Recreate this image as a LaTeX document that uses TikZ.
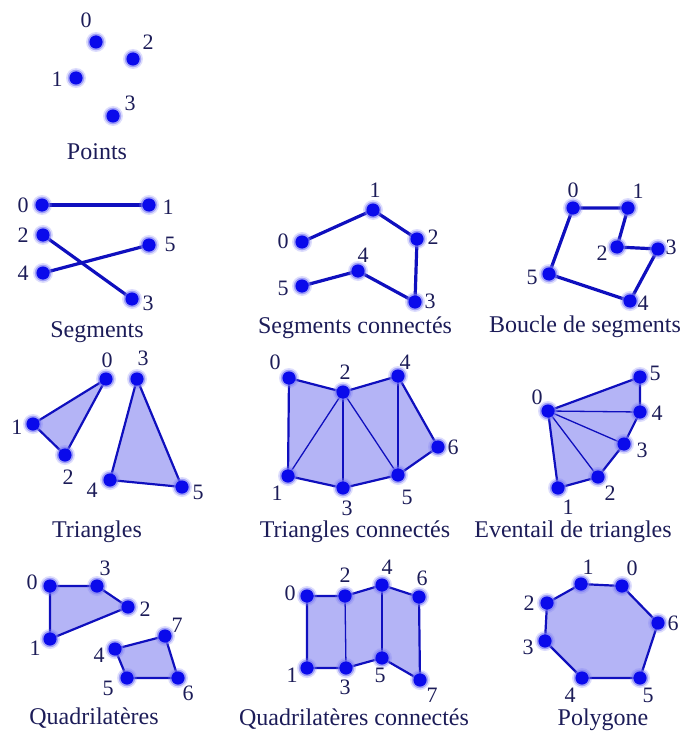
\documentclass[tikz,border=0pt]{standalone}
\usepackage{fontspec}
\setmainfont{Liberation Serif}
\definecolor{dotblue}{RGB}{10,10,235}
\definecolor{dotglow}{RGB}{120,120,245}
\definecolor{lineblue}{RGB}{15,15,190}
\definecolor{facefill}{RGB}{180,180,246}
\definecolor{txt}{RGB}{28,28,88}
\newcommand\numfnt{\fontsize{22}{24}\selectfont}
\newcommand\ttlfnt{\fontsize{24}{26}\selectfont}
\tikzset{
  seg/.style={draw=lineblue, line width=3.2pt, line join=round, line cap=round},
  face/.style={fill=facefill, draw=lineblue, line width=2.2pt, line join=round},
  innerline/.style={draw=lineblue, line width=1.3pt},
  num/.style={text=txt, font=\numfnt, inner sep=0pt},
  ttl/.style={text=txt, font=\ttlfnt, inner sep=0pt},
}
\newcommand\vertexdots[1]{\foreach \p in {#1}{%
  \fill[dotglow, opacity=0.25] (\p) circle (10pt);
  \fill[dotglow, opacity=0.6] (\p) circle (8.3pt);
  \fill[dotblue] (\p) circle (6.6pt);}}
\begin{document}
\begin{tikzpicture}[x=1pt,y=1pt]
\useasboundingbox (0,0) rectangle (681,-733);
% ---------- Points
\coordinate (a0) at (96,-42);
\coordinate (a1) at (76,-78);
\coordinate (a2) at (133,-59);
\coordinate (a3) at (113,-116);
\vertexdots{a0,a1,a2,a3}
\node[num] (la0) at (86,-20) {0};
\node[num] (la1) at (57,-79) {1};
\node[num] (la2) at (148,-42) {2};
\node[num] (la3) at (130,-103) {3};
\node[ttl] (ta) at (97,-152) {Points};
% ---------- Segments
\coordinate (b0) at (42,-205);
\coordinate (b1) at (149,-205);
\coordinate (b2) at (43,-235);
\coordinate (b3) at (132,-299);
\coordinate (b4) at (43,-273);
\coordinate (b5) at (149,-245);
\draw[seg] (b0) -- (b1);
\draw[seg] (b2) -- (b3);
\draw[seg] (b4) -- (b5);
\vertexdots{b0,b1,b2,b3,b4,b5}
\node[num] (lb0) at (23,-205) {0};
\node[num] (lb1) at (168,-207) {1};
\node[num] (lb2) at (23,-235) {2};
\node[num] (lb3) at (148,-303) {3};
\node[num] (lb4) at (23,-273) {4};
\node[num] (lb5) at (170,-244) {5};
\node[ttl] (tb) at (97,-332) {Segments};
% ---------- Segments connectes
\coordinate (c0) at (302,-242);
\coordinate (c1) at (373,-210);
\coordinate (c2) at (417,-239);
\coordinate (c3) at (415,-302);
\coordinate (c4) at (358,-271);
\coordinate (c5) at (302,-286);
\draw[seg] (c0) -- (c1) -- (c2) -- (c3) -- (c4) -- (c5);
\vertexdots{c0,c1,c2,c3,c4,c5}
\node[num] (lc0) at (283,-241) {0};
\node[num] (lc1) at (375,-190) {1};
\node[num] (lc2) at (433,-237) {2};
\node[num] (lc3) at (430,-301) {3};
\node[num] (lc4) at (363,-255) {4};
\node[num] (lc5) at (283,-288) {5};
\node[ttl] (tc) at (355,-328) {Segments connectés};
% ---------- Boucle de segments
\coordinate (d0) at (573,-208);
\coordinate (d1) at (628,-208);
\coordinate (d2) at (617,-247);
\coordinate (d3) at (658,-249);
\coordinate (d4) at (630,-301);
\coordinate (d5) at (549,-274);
\draw[seg] (d0) -- (d1) -- (d2) -- (d3) -- (d4) -- (d5) -- cycle;
\vertexdots{d0,d1,d2,d3,d4,d5}
\node[num] (ld0) at (573,-190) {0};
\node[num] (ld1) at (638,-191) {1};
\node[num] (ld2) at (602,-253) {2};
\node[num] (ld3) at (671,-247) {3};
\node[num] (ld4) at (643,-303) {4};
\node[num] (ld5) at (532,-277) {5};
\node[ttl] (td) at (585,-327) {Boucle de segments};
% ---------- Triangles
\coordinate (e0) at (106,-379);
\coordinate (e1) at (33,-424);
\coordinate (e2) at (65,-455);
\coordinate (e3) at (137,-379);
\coordinate (e4) at (110,-480);
\coordinate (e5) at (182,-487);
\path[face] (e0) -- (e1) -- (e2) -- cycle;
\path[face] (e3) -- (e4) -- (e5) -- cycle;
\vertexdots{e0,e1,e2,e3,e4,e5}
\node[num] (le0) at (107,-360) {0};
\node[num] (le1) at (17,-427) {1};
\node[num] (le2) at (68,-477) {2};
\node[num] (le3) at (143,-358) {3};
\node[num] (le4) at (92,-490) {4};
\node[num] (le5) at (198,-492) {5};
\node[ttl] (te) at (97,-532) {Triangles};
% ---------- Triangles connectes
\coordinate (f0) at (289,-378);
\coordinate (f1) at (288,-476);
\coordinate (f2) at (343,-392);
\coordinate (f3) at (343,-488);
\coordinate (f4) at (398,-376);
\coordinate (f5) at (398,-475);
\coordinate (f6) at (438,-447);
\path[face] (f0) -- (f2) -- (f4) -- (f6) -- (f5) -- (f3) -- (f1) -- cycle;
\draw[innerline] (f1) -- (f2);
\draw[innerline] (f2) -- (f3);
\draw[innerline] (f2) -- (f5);
\draw[innerline] (f4) -- (f5);
\vertexdots{f0,f1,f2,f3,f4,f5,f6}
\node[num] (lf0) at (275,-362) {0};
\node[num] (lf1) at (277,-493) {1};
\node[num] (lf2) at (345,-372) {2};
\node[num] (lf3) at (347,-508) {3};
\node[num] (lf4) at (405,-362) {4};
\node[num] (lf5) at (407,-497) {5};
\node[num] (lf6) at (453,-447) {6};
\node[ttl] (tf) at (355,-532) {Triangles connectés};
% ---------- Eventail de triangles
\coordinate (g0) at (548,-411);
\coordinate (g1) at (558,-488);
\coordinate (g2) at (598,-477);
\coordinate (g3) at (624,-444);
\coordinate (g4) at (640,-412);
\coordinate (g5) at (640,-377);
\path[face] (g0) -- (g1) -- (g2) -- (g3) -- (g4) -- (g5) -- cycle;
\draw[innerline] (g0) -- (g2);
\draw[innerline] (g0) -- (g3);
\draw[innerline] (g0) -- (g4);
\vertexdots{g0,g1,g2,g3,g4,g5}
\node[num] (lg0) at (537,-397) {0};
\node[num] (lg1) at (568,-507) {1};
\node[num] (lg2) at (610,-493) {2};
\node[num] (lg3) at (642,-450) {3};
\node[num] (lg4) at (657,-413) {4};
\node[num] (lg5) at (655,-373) {5};
\node[ttl] (tg) at (573,-532) {Eventail de triangles};
% ---------- Quadrilateres
\coordinate (h0) at (50,-586);
\coordinate (h1) at (50,-639);
\coordinate (h2) at (128,-607);
\coordinate (h3) at (97,-586);
\coordinate (h4) at (115,-649);
\coordinate (h5) at (127,-678);
\coordinate (h6) at (178,-678);
\coordinate (h7) at (165,-636);
\path[face] (h0) -- (h1) -- (h2) -- (h3) -- cycle;
\path[face] (h4) -- (h5) -- (h6) -- (h7) -- cycle;
\vertexdots{h0,h1,h2,h3,h4,h5,h6,h7}
\node[num] (lh0) at (32,-582) {0};
\node[num] (lh1) at (35,-648) {1};
\node[num] (lh2) at (145,-609) {2};
\node[num] (lh3) at (105,-568) {3};
\node[num] (lh4) at (99,-655) {4};
\node[num] (lh5) at (108,-688) {5};
\node[num] (lh6) at (188,-693) {6};
\node[num] (lh7) at (177,-625) {7};
\node[ttl] (th) at (94,-718) {Quadrilatères};
% ---------- Quadrilateres connectes
\coordinate (i0) at (307,-596);
\coordinate (i1) at (307,-668);
\coordinate (i2) at (345,-596);
\coordinate (i3) at (346,-668);
\coordinate (i4) at (382,-585);
\coordinate (i5) at (382,-658);
\coordinate (i6) at (419,-597);
\coordinate (i7) at (420,-680);
\path[face] (i0) -- (i2) -- (i4) -- (i6) -- (i7) -- (i5) -- (i3) -- (i1) -- cycle;
\draw[innerline] (i2) -- (i3);
\draw[innerline] (i4) -- (i5);
\vertexdots{i0,i1,i2,i3,i4,i5,i6,i7}
\node[num] (li0) at (290,-593) {0};
\node[num] (li1) at (292,-675) {1};
\node[num] (li2) at (345,-575) {2};
\node[num] (li3) at (345,-687) {3};
\node[num] (li4) at (387,-567) {4};
\node[num] (li5) at (380,-675) {5};
\node[num] (li6) at (422,-578) {6};
\node[num] (li7) at (432,-695) {7};
\node[ttl] (ti) at (354,-719) {Quadrilatères connectés};
% ---------- Polygone
\coordinate (j0) at (622,-586);
\coordinate (j1) at (581,-584);
\coordinate (j2) at (547,-603);
\coordinate (j3) at (545,-641);
\coordinate (j4) at (582,-678);
\coordinate (j5) at (640,-678);
\coordinate (j6) at (658,-623);
\path[face] (j0) -- (j1) -- (j2) -- (j3) -- (j4) -- (j5) -- (j6) -- cycle;
\vertexdots{j0,j1,j2,j3,j4,j5,j6}
\node[num] (lj0) at (632,-568) {0};
\node[num] (lj1) at (588,-567) {1};
\node[num] (lj2) at (529,-603) {2};
\node[num] (lj3) at (528,-647) {3};
\node[num] (lj4) at (570,-695) {4};
\node[num] (lj5) at (648,-695) {5};
\node[num] (lj6) at (673,-623) {6};
\node[ttl] (tj) at (603,-720) {Polygone};
\end{tikzpicture}
\end{document}
